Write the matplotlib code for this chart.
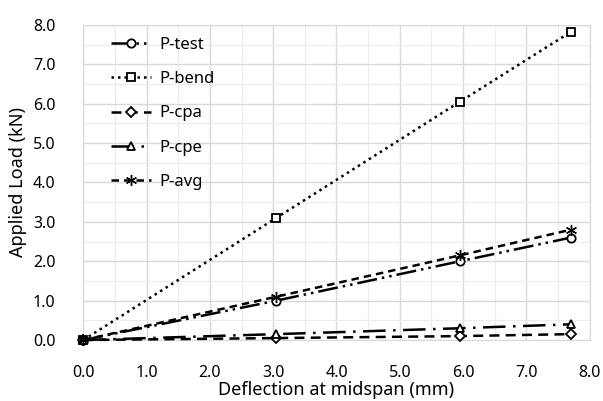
import matplotlib.pyplot as plt
from matplotlib.ticker import MultipleLocator, FormatStrFormatter

plt.rcParams['font.family'] = ['Noto Sans', 'DejaVu Sans']

# Data
deflection = [0.0, 3.05, 5.95, 7.7]
p_test = [0.0, 1.0, 2.0, 2.6]
p_bend = [0.0, 3.1, 6.05, 7.82]
p_cpa = [0.0, 0.05, 0.1, 0.15]
p_cpe = [0.0, 0.15, 0.3, 0.4]
p_avg = [0.0, 1.1, 2.15, 2.8]

fig = plt.figure(figsize=(6.03, 4.01), dpi=100)
ax = fig.add_axes([0.138, 0.152, 0.84, 0.786])

kw = dict(color='black', lw=1.8, markersize=6, markerfacecolor='white',
          markeredgewidth=1.3, clip_on=False, zorder=3)
ax.plot(deflection, p_test, label='P-test', marker='o', ls=(0, (8, 2, 1, 2, 1, 2)), **kw)
ax.plot(deflection, p_bend, label='P-bend', marker='s', ls=(0, (1, 1.6)), **kw)
ax.plot(deflection, p_cpa, label='P-cpa', marker='D', ls=(0, (4, 2.5)), **dict(kw, markersize=5))
ax.plot(deflection, p_cpe, label='P-cpe', marker='^', ls=(0, (9, 3, 1, 3)), **kw)
ax.plot(deflection, p_avg, label='P-avg', marker=(6, 2, 0), ls=(0, (3, 2)), **dict(kw, markersize=8, markeredgewidth=1.0))

ax.set_xlim(0, 8)
ax.set_ylim(0, 8)
ax.xaxis.set_major_locator(MultipleLocator(1))
ax.yaxis.set_major_locator(MultipleLocator(1))
ax.xaxis.set_minor_locator(MultipleLocator(0.5))
ax.yaxis.set_minor_locator(MultipleLocator(0.5))
ax.xaxis.set_major_formatter(FormatStrFormatter('%.1f'))
ax.yaxis.set_major_formatter(FormatStrFormatter('%.1f'))
ax.grid(which='major', color='#d9d9d9', lw=1.0)
ax.grid(which='minor', color='#ececec', lw=0.8)
ax.set_axisbelow(True)
for s in ax.spines.values():
    s.set_color('#d9d9d9')
ax.tick_params(which='both', length=0, labelsize=11.5, pad=18)
ax.tick_params(axis='y', pad=20)

ax.set_xlabel('Deflection at midspan (mm)', fontsize=13, labelpad=0)
ax.set_ylabel('Applied Load (kN)', fontsize=13, labelpad=4)

ax.legend(loc='upper left', bbox_to_anchor=(0.025, 1.01), frameon=False, fontsize=12,
          handlelength=2.4, labelspacing=1.1, handletextpad=0.5)

plt.savefig('out.png', dpi=100)
